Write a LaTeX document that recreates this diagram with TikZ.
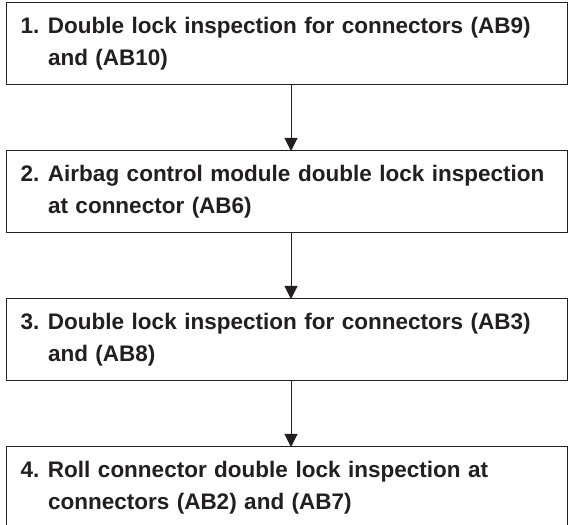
\documentclass[tikz,border=0pt]{standalone}
\usepackage{fontspec}
\setmainfont{Liberation Sans}
\usetikzlibrary{positioning,arrows.meta}
\definecolor{ink}{HTML}{231F20}
\newcommand{\stepno}[1]{\makebox[27.5pt][l]{#1}}
\newcommand{\stepgap}{\hspace*{27.5pt}}
\tikzset{
  stepbox/.style={draw=ink, line width=1pt, text=ink,
    font=\bfseries\fontsize{22.5}{32}\selectfont,
    text width=532pt, inner xsep=14.5pt, inner ysep=0pt,
    minimum height=82pt, align=left, outer sep=0pt},
  steparrow/.style={draw=ink, line width=1pt, -{Triangle[length=13pt,width=13pt]}}
}

\begin{document}
\begin{tikzpicture}[x=1pt,y=1pt]
\useasboundingbox (0,0) rectangle (568,525);
\node[stepbox, anchor=north west] (b1) at (6,522)
  {\stepno{1.}Double lock inspection for connectors (AB9)\\\stepgap and (AB10)};
\node[stepbox, below=66pt of b1] (b2)
  {\stepno{2.}Airbag control module double lock inspection\\\stepgap at connector (AB6)};
\node[stepbox, below=66pt of b2] (b3)
  {\stepno{3.}Double lock inspection for connectors (AB3)\\\stepgap and (AB8)};
\node[stepbox, below=66pt of b3] (b4)
  {\stepno{4.}Roll connector double lock inspection at\\\stepgap connectors (AB2) and (AB7)};
% arrows between the steps
\draw[steparrow] ([xshift=4.5pt]b1.south) -- ([xshift=4.5pt]b2.north);
\draw[steparrow] ([xshift=4.5pt]b2.south) -- ([xshift=4.5pt]b3.north);
\draw[steparrow] ([xshift=4.5pt]b3.south) -- ([xshift=4.5pt]b4.north);
\end{tikzpicture}
\end{document}
